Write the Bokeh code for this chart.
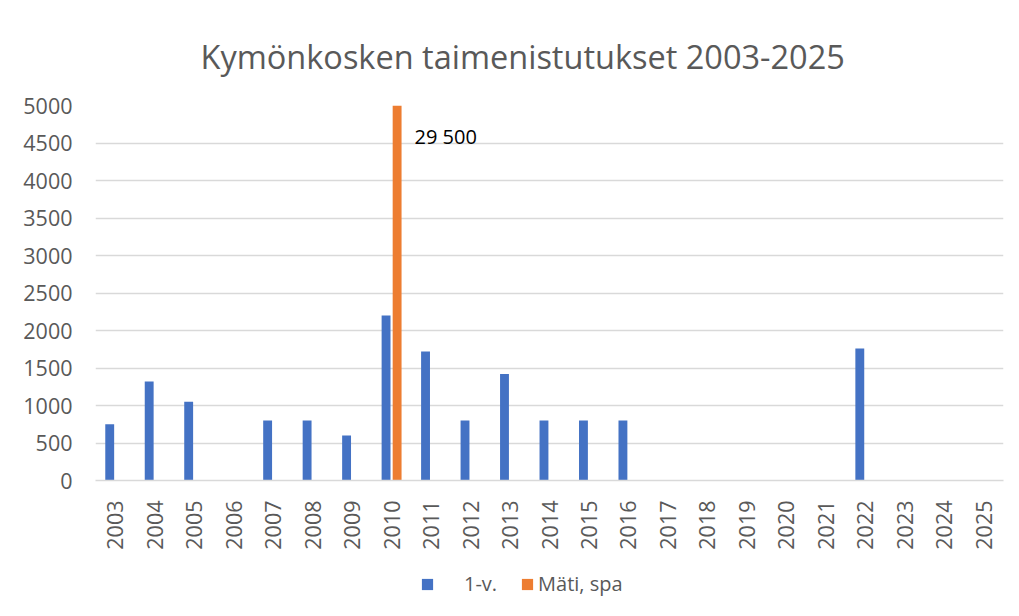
from bokeh.plotting import figure
from bokeh.models import (ColumnDataSource, Range1d, SingleIntervalTicker, Legend,
                          LegendItem, Title)
from bokeh.layouts import column
from bokeh.transform import dodge
from bokeh.core.properties import value
from bokeh.embed import file_html
from bokeh.resources import INLINE
import numpy as np

years = [str(y) for y in range(2003, 2026)]
one_year = [750, 1320, 1050, None, 800, 800, 600, 2200, 1720, 800, 1420, 800, 800,
            800, None, None, None, None, None, 1760, None, None, None]
mati = [None, None, None, None, None, None, None, 29500, None, None, None, None, None,
        None, None, None, None, None, None, None, None, None, None]
series_names = ["1-v.", "Mäti, spa"]
series_colors = ["#4472C4", "#ED7D31"]
y_max = 5000

FONT = "Open Sans"
GRAY = "#595959"

src = ColumnDataSource(dict(
    year=years,
    one=np.array(one_year, dtype=float),
    mati=np.array(mati, dtype=float),
))

p = figure(x_range=years, y_range=Range1d(0, y_max), width=1011, height=560,
           output_backend="svg", toolbar_location=None,
           min_border_left=95, min_border_right=8, min_border_top=105,
           min_border_bottom=80)
p.outline_line_color = None

r1 = p.vbar(x=dodge("year", -0.14, range=p.x_range), top="one", width=0.225,
            source=src, fill_color=series_colors[0], line_color=None)
r2 = p.vbar(x=dodge("year", 0.14, range=p.x_range), top="mati", width=0.225,
            source=src, fill_color=series_colors[1], line_color=None)

# data label for the clipped bar
lab_years = [y for y, m in zip(years, mati) if m is not None and m > y_max]
lab_text = [f"{int(m):,}".replace(",", " ") for m in mati if m is not None and m > y_max]
lab_src = ColumnDataSource(dict(year=lab_years, y=[y_max * 0.918] * len(lab_years), text=lab_text))
p.text(x=dodge("year", 0.58, range=p.x_range), y="y", text="text", source=lab_src,
       text_font=value(FONT), text_font_size="20px", text_color="black",
       text_baseline="middle", text_align="left")

# title
t = Title(text="Kymönkosken taimenistutukset 2003-2025", align="left",
          text_font=FONT, text_font_size="32.5px", text_font_style="normal",
          text_color=GRAY, standoff=54, offset=105)
p.add_layout(t, "above")

# axes
p.yaxis.ticker = SingleIntervalTicker(interval=500)
p.yaxis.axis_line_color = None
p.yaxis.major_tick_line_color = None
p.yaxis.minor_tick_line_color = None
p.yaxis.major_label_text_font = FONT
p.yaxis.major_label_text_font_size = "21.5px"
p.yaxis.major_label_text_color = GRAY
p.yaxis.major_label_standoff = 17

p.xaxis.axis_line_color = "#d9d9d9"
p.xaxis.axis_line_width = 1.5
p.xaxis.major_tick_line_color = None
p.xaxis.minor_tick_line_color = None
p.xaxis.major_label_orientation = np.pi / 2
p.xaxis.major_label_text_font = FONT
p.xaxis.major_label_text_font_size = "21.5px"
p.xaxis.major_label_text_color = GRAY
p.xaxis.major_label_standoff = 14

p.xgrid.grid_line_color = None
p.ygrid.grid_line_color = "#d9d9d9"
p.ygrid.grid_line_width = 1.5
p.ygrid.ticker = SingleIntervalTicker(interval=500)

# legend strip below the chart
pl = figure(width=1011, height=56, output_backend="svg", toolbar_location=None,
            x_range=Range1d(0, 1), y_range=Range1d(0, 1),
            min_border_left=0, min_border_right=0, min_border_top=0, min_border_bottom=0)
pl.axis.visible = False
pl.grid.visible = False
pl.outline_line_color = None
proxy = ColumnDataSource(dict(x=[np.nan], y=[np.nan]))
lr = [pl.rect(x="x", y="y", width=0.1, height=0.1, source=proxy, fill_color=c,
              line_color=None) for c in series_colors]

NBSP = "\u00a0"
legend = Legend(items=[LegendItem(label=NBSP * 5 + series_names[0], renderers=[lr[0]]),
                       LegendItem(label=series_names[1], renderers=[lr[1]])],
                location=(325, 19), orientation="horizontal", padding=0, margin=0,
                spacing=23, border_line_color=None, background_fill_alpha=0,
                label_text_font=FONT, label_text_font_size="20px",
                label_text_color=GRAY, glyph_width=14, glyph_height=14,
                label_standoff=4)
pl.add_layout(legend, "center")

open("out.html", "w").write(file_html(column(p, pl, spacing=0), INLINE))
